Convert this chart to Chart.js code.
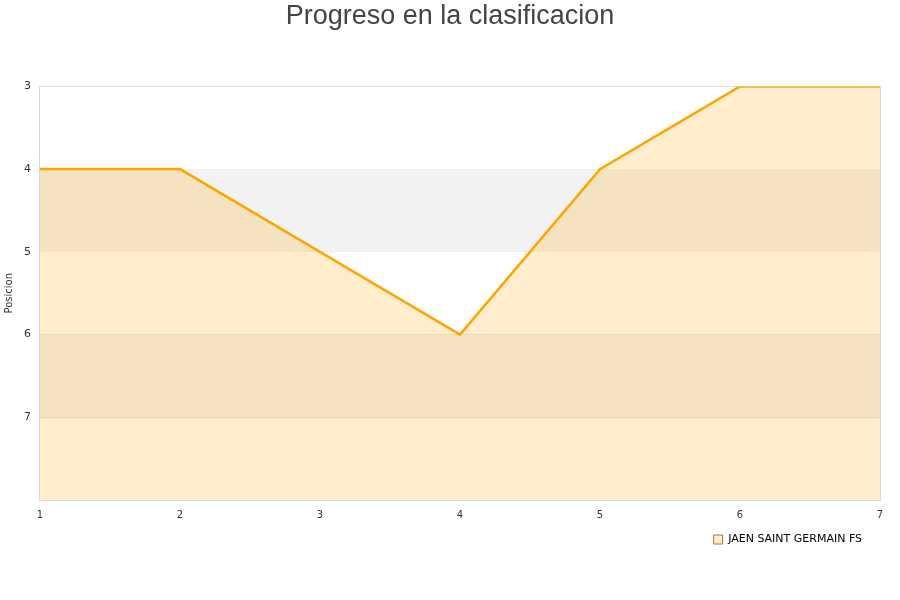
<!DOCTYPE html>
<html><head><meta charset="utf-8">
<script src="https://cdn.jsdelivr.net/npm/chart.js@4.4.1/dist/chart.umd.min.js"></script>
<style>html,body{margin:0;padding:0;background:#fff}#wrap{width:900px;height:600px}</style>
</head><body><div id="wrap"><canvas id="c" width="900" height="600"></canvas></div>
<script>
const jornadas = ['1','2','3','4','5','6','7'];
const posiciones = [4,4,5,6,4,3,3];
const teamName = 'JAEN SAINT GERMAIN FS';
const chartTitle = 'Progreso en la clasificacion';
const yTitle = 'Posicion';
const bandRanges = [[4,5],[6,7]];

const bandsPlugin = {
  id: 'bands',
  afterLayout(chart) {
    if (chart.legend) { chart.legend.left -= 6; chart.legend.right -= 6; }
  },
  beforeDatasetsDraw(chart) {
    const {ctx, chartArea, scales} = chart;
    ctx.save();
    ctx.fillStyle = '#f2f2f2';
    bandRanges.forEach(([a,b]) => {
      const y1 = scales.y.getPixelForValue(a), y2 = scales.y.getPixelForValue(b);
      ctx.fillRect(chartArea.left, Math.min(y1,y2), chartArea.right - chartArea.left, Math.abs(y2-y1));
    });
    ctx.restore();
  },
  afterDraw(chart) {
    const {ctx, chartArea} = chart;
    ctx.save();
    ctx.strokeStyle = '#d9d9d9';
    ctx.lineWidth = 1;
    ctx.beginPath();
    ctx.moveTo(Math.round(chartArea.right)+0.5, chartArea.top);
    ctx.lineTo(Math.round(chartArea.right)+0.5, chartArea.bottom);
    ctx.stroke();
    ctx.restore();
  }
};

new Chart(document.getElementById('c'), {
  type: 'line',
  data: {
    labels: jornadas,
    datasets: [{
      label: teamName,
      data: posiciones,
      borderColor: '#ffa500',
      backgroundColor: 'rgba(255,165,0,0.2)',
      borderWidth: 2.5,
      pointRadius: 0,
      tension: 0,
      fill: {value: 8}
    }]
  },
  options: {
    responsive: false,
    animation: false,
    layout: {padding: {left: 0, right: 0, top: 0, bottom: 45}},
    plugins: {
      title: {display: true, text: chartTitle, color: '#444', font: {family: 'Liberation Sans', size: 27, weight: 'normal'}, padding: {top: 0, bottom: 54}},
      legend: {position: 'bottom', align: 'end', fullSize: false,
        labels: {boxWidth: 9, boxHeight: 9, padding: 12, color: '#111', font: {family: 'DejaVu Sans', size: 11},
          generateLabels: (chart) => [{text: teamName, fillStyle: 'rgba(255,165,0,0.2)', strokeStyle: '#a07a40', lineWidth: 1, datasetIndex: 0}]}},
      tooltip: {enabled: false}
    },
    scales: {
      x: {
        offset: false,
        grid: {display: false},
        border: {color: '#d9d9d9'},
        ticks: {color: '#333', font: {family: 'DejaVu Sans', size: 10}, maxRotation: 0, padding: 1}
      },
      y: {
        reverse: true, min: 3, max: 8,
        grid: {color: '#dddddd', drawTicks: false},
        border: {color: '#d9d9d9'},
        ticks: {stepSize: 1, color: '#333', font: {family: 'DejaVu Sans', size: 11}, padding: 9,
          callback: v => v === 8 ? '' : v},
        title: {display: true, text: yTitle, color: '#333', font: {family: 'DejaVu Sans', size: 10}, padding: {top: 3, bottom: 0}}
      },
      yRight: {
        position: 'right', min: 0, max: 1,
        grid: {display: false}, border: {display: false},
        ticks: {display: false},
        afterFit(scale) { scale.width = 20; }
      }
    }
  },
  plugins: [bandsPlugin]
});
</script></body></html>
